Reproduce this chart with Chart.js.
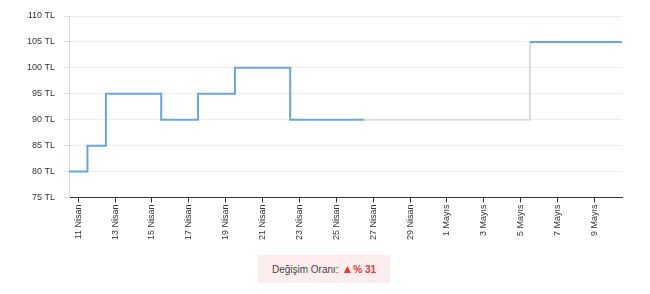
<!DOCTYPE html>
<html>
<head>
<meta charset="utf-8">
<script src="https://cdn.jsdelivr.net/npm/chart.js@4/dist/chart.umd.min.js"></script>
<style>
  body { margin: 0; background: #fff; font-family: Arial, "Liberation Sans", sans-serif; }
  #wrap { width: 650px; height: 242px; position: relative; }
  #change {
    position: absolute; left: 258px; top: 255px; width: 132px; height: 28px;
    background: #fdeded; color: #444; font-size: 10px; line-height: 28px; text-align: center;
  }
  #change b { color: #e53935; }
  #change .tri { font-size: 12px; }
</style>
</head>
<body>
<div id="wrap"><canvas id="priceChart"></canvas></div>
<div id="change">Değişim Oranı: <b><span class="tri">▲</span>% 31</b></div>
<script>
// günler (kategori)
const days = [
  '11 Nisan', '12 Nisan', '13 Nisan', '14 Nisan', '15 Nisan', '16 Nisan', '17 Nisan', '18 Nisan',
  '19 Nisan', '20 Nisan', '21 Nisan', '22 Nisan', '23 Nisan', '24 Nisan', '25 Nisan', '26 Nisan',
  '27 Nisan', '28 Nisan', '29 Nisan', '30 Nisan', '1 Mayıs', '2 Mayıs', '3 Mayıs', '4 Mayıs',
  '5 Mayıs', '6 Mayıs', '7 Mayıs', '8 Mayıs', '9 Mayıs', '10 Mayıs'
];
// günlük fiyat (null = veri yok)
const prices = [
  80, 85, 95, 95, 95, 90, 90, 95, 95, 100, 100, 100, 90, 90, 90, 90,
  null, null, null, null, null, null, null, null, null,
  105, 105, 105, 105, 105
];
const yTicks = [75, 80, 85, 90, 95, 100, 105, 110];

// veri olmayan günler son fiyatla gri çizilir
const missing = prices.map(v => v === null);
let last = prices[0];
const filled = prices.map(v => { if (v !== null) last = v; return last; });
// her gün kendi aralığını (i-0.5 .. i+0.5) kaplasın
const points = filled.map((v, i) => ({ x: i - 0.5, y: v }));
points.push({ x: filled.length - 0.5, y: filled[filled.length - 1] });

const FONT = { size: 9, family: 'Arial, "Liberation Sans", sans-serif' };

const ctx = document.getElementById('priceChart');
new Chart(ctx, {
  type: 'line',
  data: {
    datasets: [{
      data: points,
      borderColor: '#6aa5df',
      borderWidth: 2,
      pointRadius: 0,
      stepped: true,
      segment: {
        borderColor: c => missing[c.p0DataIndex] ? '#dcdcdc' : '#6aa5df'
      }
    }]
  },
  options: {
    responsive: true,
    maintainAspectRatio: false,
    animation: false,
    layout: { padding: { top: 16, right: 28, left: 18, bottom: 0 } },
    plugins: { legend: { display: false }, tooltip: { enabled: false } },
    scales: {
      x: {
        type: 'linear',
        min: -0.5,
        max: days.length - 0.5,
        afterBuildTicks: axis => {
          axis.ticks = days.map((d, i) => ({ value: i })).filter(t => t.value % 2 === 0);
        },
        grid: { drawOnChartArea: false, tickLength: 5, tickColor: '#333' },
        border: { color: '#333', width: 1 },
        ticks: {
          autoSkip: false,
          maxRotation: 90,
          minRotation: 90,
          padding: 2,
          color: '#333',
          font: FONT,
          callback: v => days[v]
        }
      },
      y: {
        min: yTicks[0],
        max: yTicks[yTicks.length - 1],
        afterBuildTicks: axis => { axis.ticks = yTicks.map(v => ({ value: v })); },
        grid: { color: '#eeeeee', tickColor: '#dddddd', tickLength: 5 },
        border: { color: '#dddddd' },
        ticks: {
          padding: 9,
          color: '#333',
          font: FONT,
          callback: v => v + ' TL'
        }
      }
    }
  }
});
</script>
</body>
</html>
